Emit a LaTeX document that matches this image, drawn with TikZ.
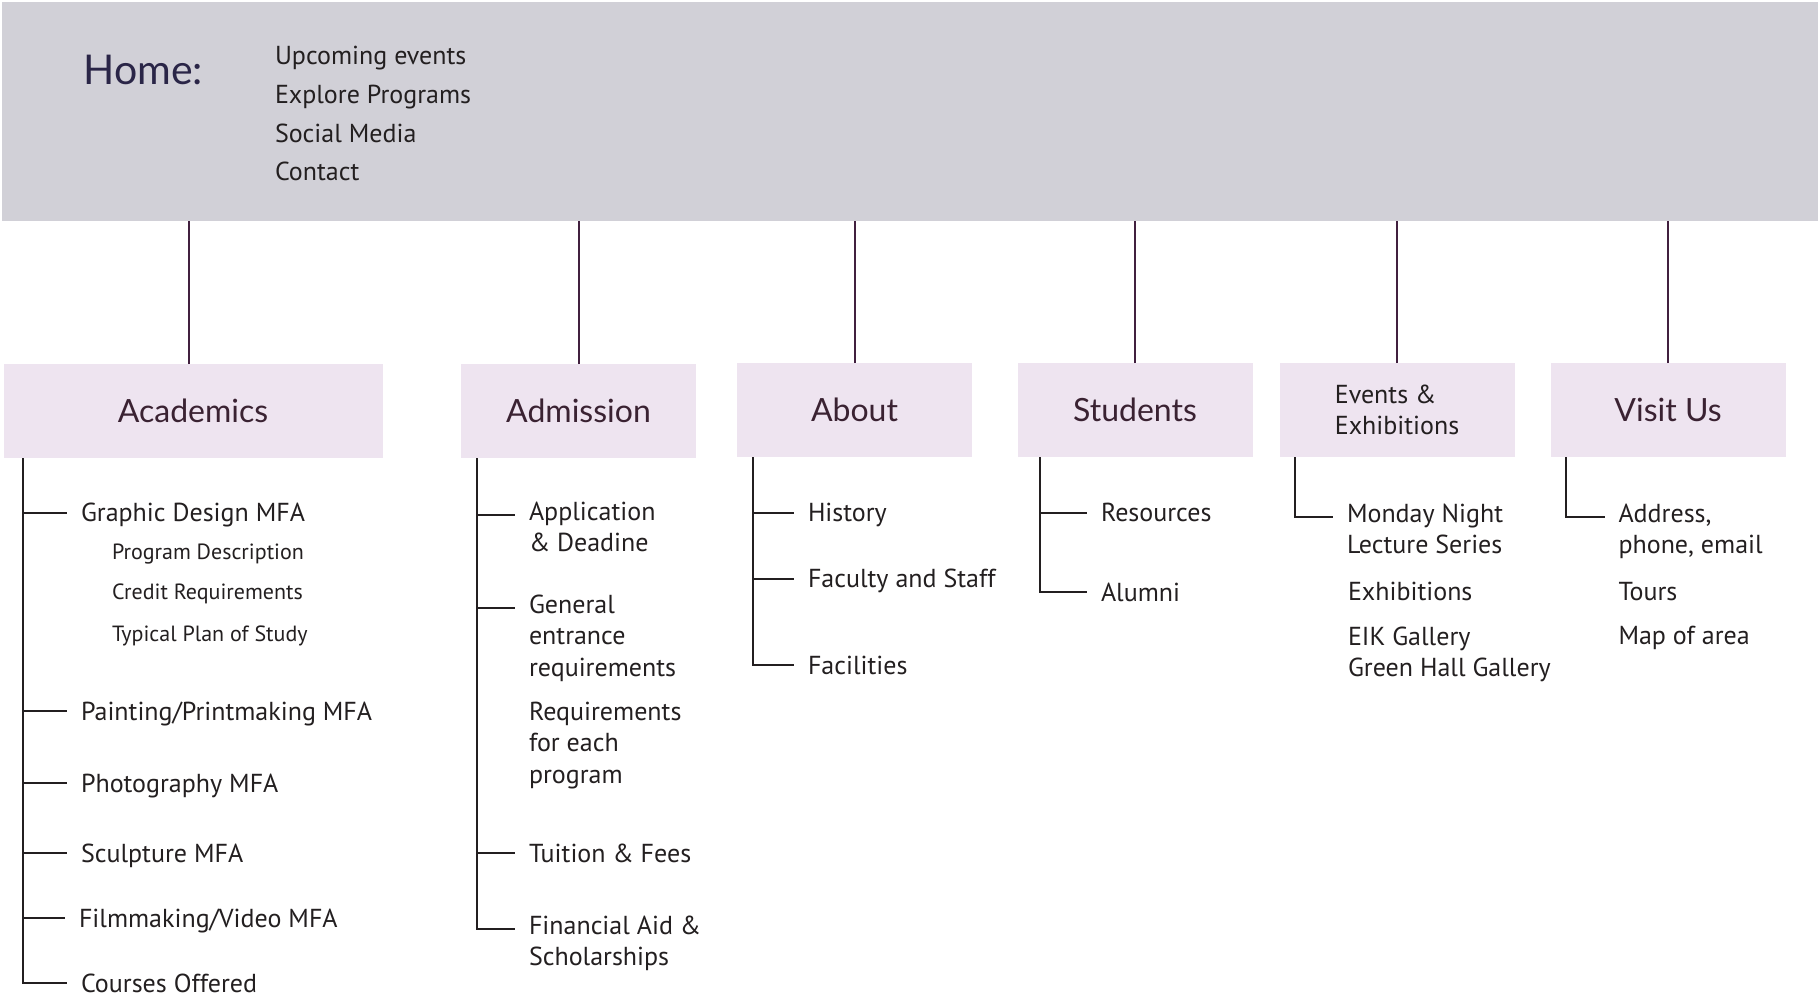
\documentclass[tikz,border=0pt]{standalone}
\usepackage{fontspec}
\setmainfont{PT Sans}
\newfontfamily\headfont{Lato}
\usepackage{tikz}
\usetikzlibrary{positioning}
\definecolor{bargray}{HTML}{D1D0D7}
\definecolor{boxpink}{HTML}{EEE4F0}
\definecolor{linkplum}{HTML}{41203F}
\definecolor{inkgray}{HTML}{231F20}
\definecolor{headplum}{HTML}{3A2232}
\definecolor{homenavy}{HTML}{2A2547}

\begin{document}
\begin{tikzpicture}[x=0.5pt,y=-0.5pt,
    bar/.style={fill=bargray,minimum width=908pt,minimum height=109.5pt,inner sep=0,outer sep=0},
    box/.style={fill=boxpink,minimum height=47pt,minimum width=117.5pt,inner sep=0,outer sep=0,
      text=headplum,font=\headfont\fontsize{16}{18}\selectfont},
    item/.style={anchor=north west,yshift=6.37pt,inner xsep=7pt,inner ysep=0,outer sep=0,
      align=left,text=inkgray,font=\fontsize{13}{15.6}\selectfont,execute at begin node=\strut},
    subitem/.style={item,yshift=-1.12pt,font=\fontsize{11}{13}\selectfont},
    link/.style={linkplum,line width=1pt},
    trunk/.style={inkgray,line width=1pt}]
  \useasboundingbox (0,0) rectangle (1818,995);

  % Home bar
  \node[bar] (bar) at (910,111.5) {};
  \node[anchor=west,inner sep=0,text=homenavy,font=\headfont\fontsize{20.5}{24}\selectfont] (home) at (83,70) {Home:};
  \node[item,inner xsep=0,yshift=-1.41pt,font=\fontsize{13}{19.4}\selectfont] (homelist) at (275,56)
    {Upcoming events\\Explore Programs\\Social Media\\Contact};

  % Section boxes
  \node[box,minimum width=189.5pt] (acad) at (193,411) {Academics};
  \node[box] (adm) at (578.5,411) {Admission};
  \node[box] (about) at (854.5,410) {About};
  \node[box] (stud) at (1135,410) {Students};
  \node[box,align=left,text=inkgray,font=\fontsize{13}{15.6}\selectfont] (events) at (1397,410) {Events \&\\Exhibitions};
  \node[box] (visit) at (1668,410) {Visit Us};

  \draw[link] ([xshift=-2pt]acad.north) -- ([xshift=-2pt]acad.north |- bar.south);
  \foreach \b in {adm,about,stud,events,visit}
    \draw[link] (\b.north) -- (\b.north |- bar.south);

  % Academics
  \coordinate (acT) at ([xshift=9.75pt]acad.south west);
  \node[item] (ac1) at (67,512.5) {Graphic Design MFA};
  \node[subitem] (ac1a) at (98,552) {Program Description};
  \node[subitem] (ac1b) at (98,592) {Credit Requirements};
  \node[subitem] (ac1c) at (98,634) {Typical Plan of Study};
  \node[item] (ac2) at (67,711) {Painting/Printmaking MFA};
  \node[item] (ac3) at (67,783) {Photography MFA};
  \node[item] (ac4) at (67,853) {Sculpture MFA};
  \node[item] (ac5) at (65,918) {Filmmaking/Video MFA};
  \node[item] (ac6) at (67,983) {Courses Offered};
  \foreach \n in {ac1,ac2,ac3,ac4,ac5,ac6}
    \draw[trunk] (acT) |- ([yshift=-6.37pt]\n.north west);

  % Admission
  \coordinate (adT) at ([xshift=7.75pt]adm.south west);
  \node[item] (ad1) at (515,515) {Application\\\& Deadine};
  \node[item] (ad2) at (515,608) {General\\entrance\\requirements};
  \node[item] (ad3) at (515,715) {Requirements\\for each\\program};
  \node[item] (ad4) at (515,853) {Tuition \& Fees};
  \node[item] (ad5) at (515,929) {Financial Aid \&\\Scholarships};
  \foreach \n in {ad1,ad2,ad4,ad5}
    \draw[trunk] (adT) |- ([yshift=-6.37pt]\n.north west);

  % About
  \coordinate (abT) at ([xshift=7.75pt]about.south west);
  \node[item] (ab1) at (794,512.5) {History};
  \node[item] (ab2) at (794,578.5) {Faculty and Staff};
  \node[item] (ab3) at (794,665) {Facilities};
  \foreach \n in {ab1,ab2,ab3}
    \draw[trunk] (abT) |- ([yshift=-6.37pt]\n.north west);

  % Students
  \coordinate (stT) at ([xshift=11pt]stud.south west);
  \node[item] (st1) at (1087,512.5) {Resources};
  \node[item] (st2) at (1087,592) {Alumni};
  \foreach \n in {st1,st2}
    \draw[trunk] (stT) |- ([yshift=-6.37pt]\n.north west);

  % Events
  \coordinate (evT) at ([xshift=7.5pt]events.south west);
  \node[item] (ev1) at (1333,517) {Monday Night\\Lecture Series};
  \node[item] (ev2) at (1334,591) {Exhibitions};
  \node[item] (ev3) at (1334,640) {EIK Gallery\\Green Hall Gallery};
  \draw[trunk] (evT) |- ([yshift=-6.37pt]ev1.north west);

  % Visit Us
  \coordinate (viT) at ([xshift=7.5pt]visit.south west);
  \node[item] (vi1) at (1604.5,517) {Address,\\phone, email};
  \node[item] (vi2) at (1604.5,591) {Tours};
  \node[item] (vi3) at (1604.5,635) {Map of area};
  \draw[trunk] (viT) |- ([yshift=-6.37pt]vi1.north west);
\end{tikzpicture}
\end{document}
